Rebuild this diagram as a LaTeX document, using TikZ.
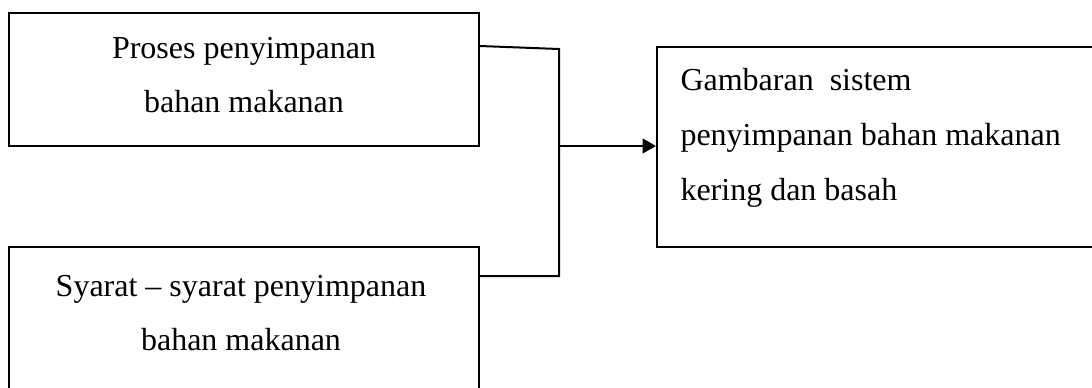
\documentclass[tikz,border=0pt]{standalone}
\usepackage{fontspec}
\setmainfont{Liberation Serif}
\usetikzlibrary{arrows.meta,calc}
\tikzset{every picture/.style={line width=0.75pt}}
\tikzset{
	kotak/.style={draw, line width=1.5, inner sep=0pt},
	teks/.style={font=\fontsize{24}{41}\selectfont, inner sep=0pt},
	garis/.style={line width=1.5}
}

\begin{document}
\begin{tikzpicture}[x=0.75pt,y=0.75pt,yscale=-1,xscale=1]
		\useasboundingbox (0,0) rectangle (1092,387);
		\clip (0,0) rectangle (1092,387);
		
		%Shape: Rectangle [id:proses]
		\node [kotak, minimum width=352.5pt, minimum height=99.75pt] (proses) at (244,79.5) {};
		\node [teks, align=center] (proses-txt) at (244,75) {Proses penyimpanan\\bahan makanan};
		
		%Shape: Rectangle [id:syarat]
		\node [kotak, minimum width=352.5pt, minimum height=114.75pt] (syarat) at (244,323.5) {};
		\node [teks, align=center] (syarat-txt) at (241,313) {Syarat -- syarat penyimpanan\\bahan makanan};
		
		%Shape: Rectangle [id:gambaran]
		\node [kotak, minimum width=332.25pt, minimum height=150pt] (gambaran) at (878.5,147) {};
		\node [teks, align=left, anchor=west] (gambaran-txt) at (680,138) {Gambaran~~sistem\\penyimpanan bahan makanan\\kering dan basah};
		
		%Straight Lines [id:sambung]
		\coordinate (atas) at (559,49);
		\coordinate (bawah) at (559,276);
		\coordinate (tengah) at (559,146);
		\draw [garis] ($(proses.north east)+(0,34)$) -- (atas) -- (bawah) -- (syarat.east |- bawah);
		
		%Straight Lines [id:panah]
		\draw [garis, -{Triangle[length=10pt,width=11pt]}] (tengah) -- (gambaran.west |- tengah);
		
\end{tikzpicture}
\end{document}
